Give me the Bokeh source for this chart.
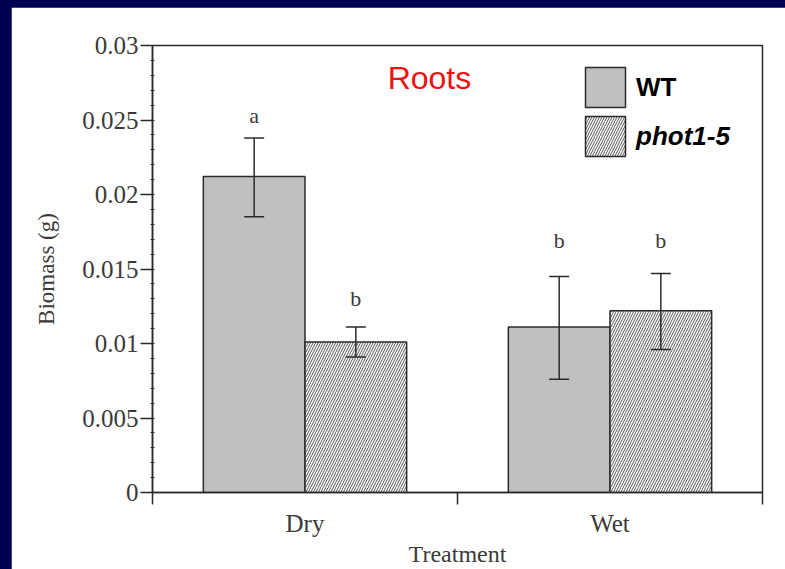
from bokeh.plotting import figure
from bokeh.models import (ColumnDataSource, Whisker, TeeHead, Legend, LegendItem,
                          FixedTicker, SingleIntervalTicker, Label)
from bokeh.layouts import column
from bokeh.core.properties import value
from bokeh.embed import file_html
from bokeh.resources import INLINE

# ---- data ----
treatments = ["Dry", "Wet"]
wt_mean = [0.0212, 0.0111]
wt_lower = [0.0185, 0.0076]
wt_upper = [0.0238, 0.0145]
phot_mean = [0.0101, 0.0122]
phot_lower = [0.0091, 0.0096]
phot_upper = [0.0111, 0.0147]
wt_letters = ["a", "b"]
phot_letters = ["b", "b"]
wt_letter_y = [0.0253, 0.0169]
phot_letter_y = [0.0130, 0.0169]
y_ticks = [0, 0.005, 0.01, 0.015, 0.02, 0.025, 0.03]
y_tick_labels = ["0", "0.005", "0.01", "0.015", "0.02", "0.025", "0.03"]
series_names = ["WT", "phot1-5"]

centers = [i + 0.5 for i in range(len(treatments))]
bar_w = 1 / 3
wt_x = [c - bar_w / 2 for c in centers]
phot_x = [c + bar_w / 2 for c in centers]

SERIF = "Liberation Serif"
SANS = "Liberation Sans"
INK = "#2a2a2a"
LABEL_INK = "#3a3a3a"

p = figure(width=774, height=562, x_range=(0, 2), y_range=(0, 0.03),
           output_backend="svg", toolbar_location=None,
           min_border_left=141, min_border_right=23, min_border_top=38,
           min_border_bottom=76, margin=(7, 0, 0, 11))
p.background_fill_color = "white"
p.border_fill_color = "white"
p.outline_line_color = INK
p.outline_line_width = 1.5
p.grid.visible = False

src_wt = ColumnDataSource(dict(x=wt_x, top=wt_mean, lower=wt_lower, upper=wt_upper,
                               lab=wt_letters, ly=wt_letter_y))
src_ph = ColumnDataSource(dict(x=phot_x, top=phot_mean, lower=phot_lower, upper=phot_upper,
                               lab=phot_letters, ly=phot_letter_y))

r_wt = p.vbar(x="x", top="top", width=bar_w, source=src_wt,
              fill_color="#c0c0c0", line_color=INK, line_width=1.5)
r_ph = p.vbar(x="x", top="top", width=bar_w, source=src_ph,
              fill_color="white", line_color=INK, line_width=1.5,
              hatch_pattern="/", hatch_color="#555555", hatch_scale=5, hatch_weight=1)

for src in (src_wt, src_ph):
    w = Whisker(base="x", lower="lower", upper="upper", source=src,
                line_color=INK, line_width=1.5, level="overlay",
                upper_head=TeeHead(size=20, line_color=INK, line_width=1.5),
                lower_head=TeeHead(size=20, line_color=INK, line_width=1.5))
    p.add_layout(w)
    p.text(x="x", y="ly", text="lab", source=src, text_align="center",
           text_baseline="middle", text_font=value(SERIF), text_font_size="22px",
           text_color=LABEL_INK)

# axes
yax = p.yaxis[0]
yax.ticker = SingleIntervalTicker(interval=0.005, num_minor_ticks=5)
yax.major_label_overrides = {t: l for t, l in zip(y_ticks, y_tick_labels)}
yax.major_tick_out = 12
yax.major_tick_in = 0
yax.minor_tick_out = 2
yax.minor_tick_in = 2
yax.axis_line_width = 1.5
yax.axis_line_color = INK
yax.major_tick_line_color = INK
yax.minor_tick_line_color = INK
yax.major_tick_line_width = 1.5
yax.major_label_text_font = SERIF
yax.major_label_text_font_size = "25px"
yax.major_label_text_color = LABEL_INK
yax.major_label_standoff = 2
yax.axis_label = "Biomass (g)"
yax.axis_label_text_font = SERIF
yax.axis_label_text_font_size = "23px"
yax.axis_label_text_font_style = "normal"
yax.axis_label_text_color = LABEL_INK
yax.axis_label_standoff = 20

xax = p.xaxis[0]
xax.ticker = FixedTicker(ticks=centers, minor_ticks=[0, 1, 2])
xax.major_label_overrides = {c: t for c, t in zip(centers, treatments)}
xax.major_tick_out = 0
xax.major_tick_in = 0
xax.minor_tick_out = 12
xax.minor_tick_in = 0
xax.minor_tick_line_width = 1.5
xax.minor_tick_line_color = INK
xax.axis_line_width = 1.5
xax.axis_line_color = INK
xax.major_label_text_font = SERIF
xax.major_label_text_font_size = "25px"
xax.major_label_text_color = LABEL_INK
xax.major_label_standoff = 5
xax.axis_label = "Treatment"
xax.axis_label_text_font = SERIF
xax.axis_label_text_font_size = "24px"
xax.axis_label_text_font_style = "normal"
xax.axis_label_text_color = LABEL_INK
xax.axis_label_standoff = 1

p.add_layout(Label(x=0.908, y=0.0278, text="Roots", text_align="center",
                   text_baseline="middle", text_font=SANS, text_font_size="32px",
                   text_color="#ee1111"))

for i, (r, style, ypos) in enumerate([(r_wt, "bold", 380), (r_ph, "bold italic", 331)]):
    lg = Legend(items=[LegendItem(label=series_names[i], renderers=[r])],
                location=(428, ypos), glyph_width=50, glyph_height=50,
                padding=0, margin=0, spacing=0, label_standoff=6,
                label_text_font=SANS, label_text_font_size="26px",
                label_text_font_style=style, label_text_color="black",
                background_fill_alpha=0, border_line_alpha=0)
    p.add_layout(lg)

root = column(p, width=785, height=569,
              styles={"background-color": "#000050", "margin": "0"})

open("out.html", "w").write(file_html(root, INLINE))
